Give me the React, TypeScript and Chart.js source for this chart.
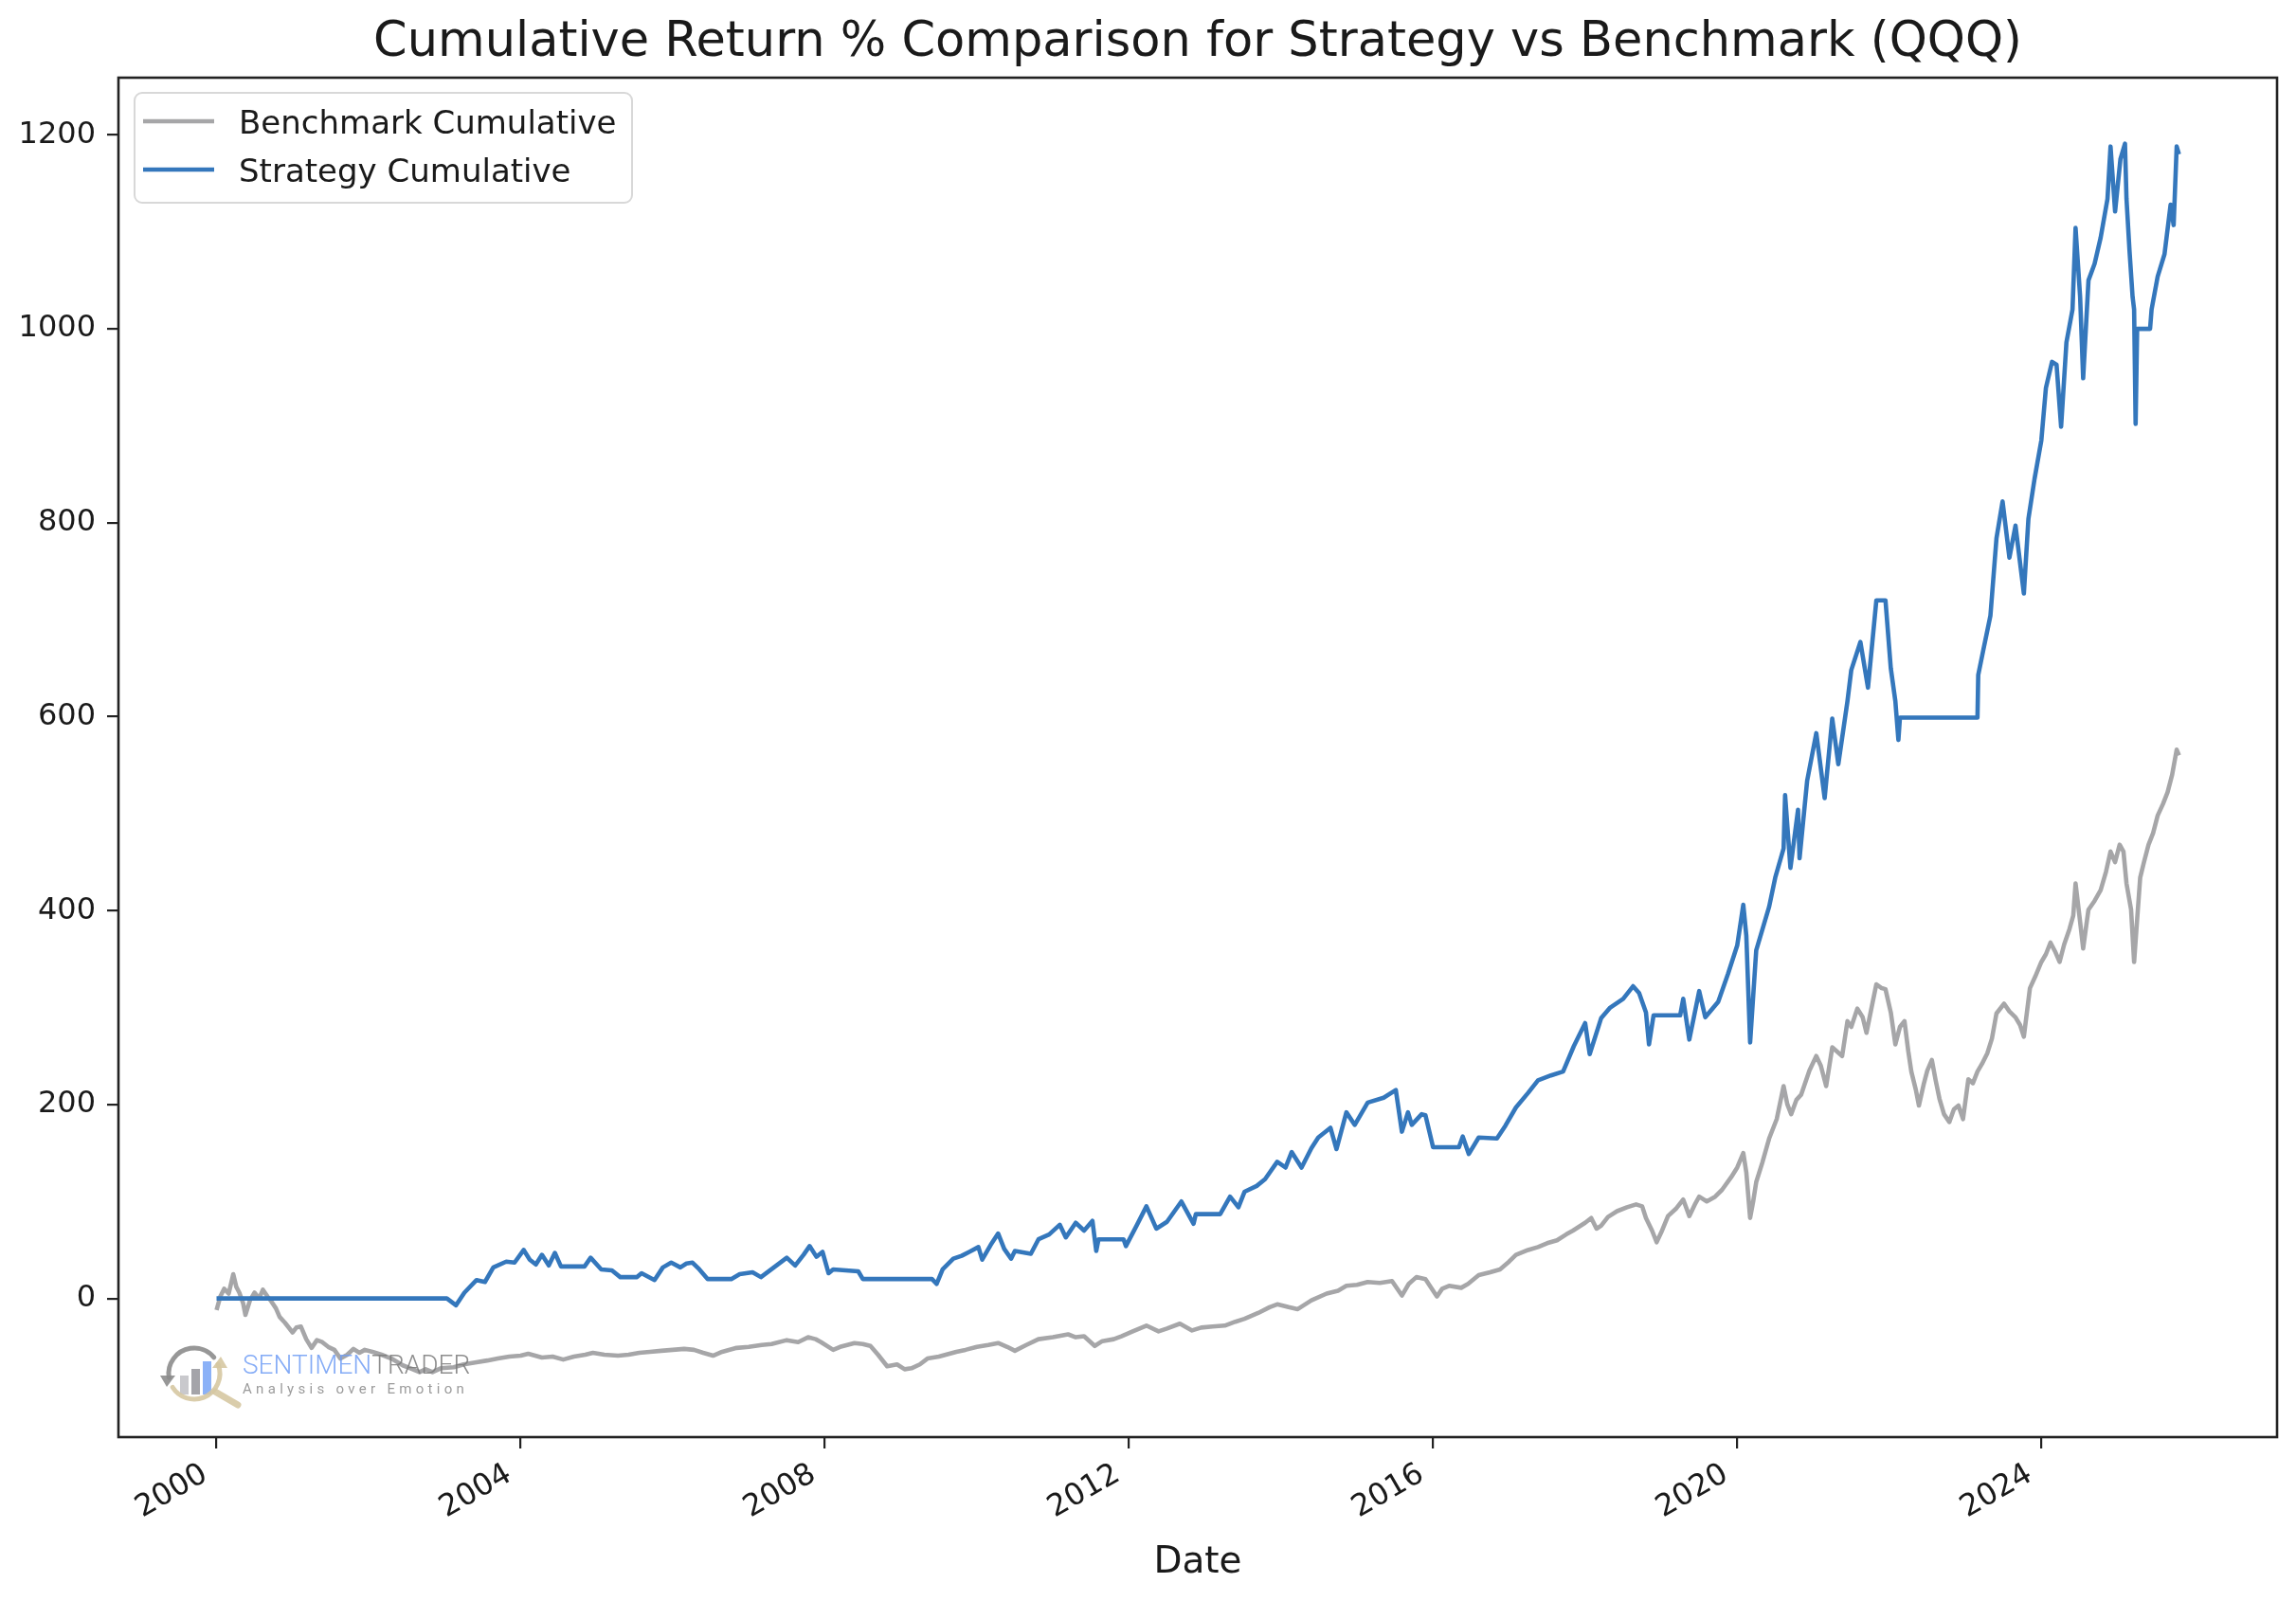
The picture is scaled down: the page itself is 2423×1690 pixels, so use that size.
import React, { useEffect, useRef } from "react";
import { Chart, registerables } from "chart.js";

Chart.register(...registerables);

const TITLE = "Cumulative Return % Comparison for Strategy vs Benchmark (QQQ)";
const X_TITLE = "Date";
const X_TICKS = [2000, 2004, 2008, 2012, 2016, 2020, 2024];
const Y_TICKS = [0, 200, 400, 600, 800, 1000, 1200];
const X_MIN = 1998.71;
const X_MAX = 2027.1;
const Y_MIN = -143;
const Y_MAX = 1259;

const BENCH_LABEL = "Benchmark Cumulative";
const STRAT_LABEL = "Strategy Cumulative";
const BENCH_COLOR = "#a6a6a8";
const STRAT_COLOR = "#3477bc";

const BENCH_DATES = [
  2000.0, 2000.05, 2000.1, 2000.16, 2000.22, 2000.26, 2000.3, 2000.35, 2000.38, 2000.44, 2000.5, 2000.56,
  2000.61, 2000.67, 2000.72, 2000.78, 2000.83, 2000.9, 2001.0, 2001.05, 2001.11, 2001.18, 2001.25, 2001.32,
  2001.39, 2001.47, 2001.55, 2001.63, 2001.72, 2001.8, 2001.88, 2001.95, 2002.05, 2002.17, 2002.3, 2002.45,
  2002.55, 2002.67, 2002.75, 2002.84, 2002.95, 2003.12, 2003.25, 2003.4, 2003.56, 2003.7, 2003.85, 2004.0,
  2004.1, 2004.28, 2004.42, 2004.56, 2004.7, 2004.85, 2004.95, 2005.1, 2005.28, 2005.42, 2005.56, 2005.7,
  2005.85, 2006.0, 2006.15, 2006.28, 2006.4, 2006.53, 2006.65, 2006.84, 2007.0, 2007.17, 2007.3, 2007.5,
  2007.65, 2007.78, 2007.88, 2007.95, 2008.11, 2008.2, 2008.39, 2008.5, 2008.6, 2008.7, 2008.82, 2008.95,
  2009.05, 2009.14, 2009.25, 2009.35, 2009.5, 2009.73, 2009.85, 2010.0, 2010.15, 2010.28, 2010.4, 2010.5,
  2010.65, 2010.81, 2011.0, 2011.2, 2011.3, 2011.41, 2011.55, 2011.65, 2011.8, 2011.9, 2012.05, 2012.23,
  2012.39, 2012.5, 2012.67, 2012.83, 2012.95, 2013.1, 2013.26, 2013.4, 2013.52, 2013.7, 2013.85, 2013.95,
  2014.1, 2014.22, 2014.4, 2014.6, 2014.75, 2014.86, 2015.0, 2015.14, 2015.3, 2015.46, 2015.59, 2015.68,
  2015.78, 2015.9, 2016.05, 2016.12, 2016.21, 2016.37, 2016.46, 2016.6, 2016.75, 2016.88, 2017.0, 2017.09,
  2017.25, 2017.38, 2017.5, 2017.63, 2017.75, 2017.84, 2018.0, 2018.08, 2018.15, 2018.21, 2018.3, 2018.42,
  2018.55, 2018.67, 2018.75, 2018.8, 2018.88, 2018.94, 2019.0, 2019.09, 2019.2, 2019.29, 2019.37, 2019.45,
  2019.5, 2019.6, 2019.71, 2019.8, 2019.92, 2020.0, 2020.08, 2020.12, 2020.17, 2020.21, 2020.25, 2020.33,
  2020.42, 2020.52, 2020.61, 2020.66, 2020.71, 2020.78, 2020.84, 2020.95, 2021.04, 2021.1, 2021.17, 2021.25,
  2021.38, 2021.45, 2021.5, 2021.58, 2021.65, 2021.7, 2021.78, 2021.83, 2021.9, 2021.95, 2022.02, 2022.08,
  2022.14, 2022.2, 2022.25, 2022.29, 2022.35, 2022.39, 2022.45, 2022.5, 2022.56, 2022.61, 2022.66, 2022.72,
  2022.79, 2022.85, 2022.91, 2022.97, 2023.04, 2023.1, 2023.16, 2023.22, 2023.29, 2023.35, 2023.41, 2023.51,
  2023.58, 2023.66, 2023.72, 2023.77, 2023.85, 2023.92, 2024.0, 2024.06, 2024.12, 2024.18, 2024.24, 2024.3,
  2024.37, 2024.42, 2024.45, 2024.5, 2024.55, 2024.6, 2024.62, 2024.7, 2024.78, 2024.85, 2024.91, 2024.97,
  2025.03, 2025.08, 2025.12, 2025.18, 2025.22, 2025.25, 2025.3, 2025.35, 2025.41, 2025.47, 2025.53, 2025.6,
  2025.66, 2025.72, 2025.78, 2025.81,
];
const BENCH_VALUES = [
  -12, 2, 10, 5, 25, 12, 6, -5, -17, -2, 6, 0,
  9, 2, -3, -10, -19, -25, -35, -30, -29, -42, -51, -43,
  -45, -50, -53, -62, -58, -52, -56, -53, -55, -58, -62, -69,
  -72, -76, -73, -76, -72, -71, -68, -66, -64, -62, -60, -59,
  -57, -61, -60, -63, -60, -58, -56, -58, -59, -58, -56, -55,
  -54, -53, -52, -53, -56, -59, -55, -51, -50, -48, -47, -43,
  -45, -40, -42, -45, -53, -50, -46, -47, -49, -58, -70, -68,
  -73, -72, -68, -62, -60, -55, -53, -50, -48, -46, -50, -54,
  -48, -42, -40, -37, -40, -39, -49, -44, -42, -39, -34, -28,
  -34, -31, -26, -33, -30, -29, -28, -24, -21, -15, -9, -6,
  -9, -11, -2, 5, 8, 13, 14, 17, 16, 18, 3, 15,
  22, 20, 2, 10, 13, 11, 15, 24, 27, 30, 38, 45,
  50, 53, 57, 60, 66, 70, 78, 83, 72, 75, 84, 90,
  94, 97, 95, 83, 70, 58, 68, 85, 93, 102, 85, 98,
  105, 100, 105, 112, 125, 135, 150, 130, 83, 100, 120, 140,
  165, 185, 219, 200, 190, 205, 210, 235, 250, 240, 219, 259,
  250, 286, 280, 299, 290, 274, 305, 324, 320, 319, 295, 262,
  280, 286, 255, 234, 215, 199, 220, 235, 246, 225, 206, 190,
  182, 195, 199, 185, 226, 222, 234, 242, 253, 268, 294, 304,
  296, 290, 282, 270, 320, 332, 347, 355, 367, 358, 347, 365,
  381, 395, 428, 395, 361, 390, 401, 410, 421, 440, 461, 450,
  468, 461, 428, 401, 347, 380, 434, 450, 468, 480, 498, 510,
  522, 540, 566, 560,
];

const STRAT_DATES = [
  2000.0, 2003.03, 2003.15, 2003.26, 2003.42, 2003.53, 2003.64, 2003.81, 2003.92, 2004.04, 2004.12, 2004.2,
  2004.28, 2004.37, 2004.45, 2004.53, 2004.84, 2004.92, 2005.06, 2005.2, 2005.31, 2005.53, 2005.59, 2005.76,
  2005.87, 2005.98, 2006.1, 2006.18, 2006.26, 2006.35, 2006.46, 2006.77, 2006.88, 2007.05, 2007.16, 2007.33,
  2007.5, 2007.61, 2007.72, 2007.8, 2007.89, 2007.97, 2008.05, 2008.11, 2008.44, 2008.5, 2009.41, 2009.47,
  2009.55, 2009.69, 2009.8, 2009.9, 2010.02, 2010.07, 2010.18, 2010.28, 2010.36, 2010.45, 2010.5, 2010.71,
  2010.81, 2010.95, 2011.09, 2011.17, 2011.3, 2011.41, 2011.52, 2011.57, 2011.6, 2011.93, 2011.96, 2012.1,
  2012.23, 2012.36, 2012.5, 2012.69, 2012.85, 2012.88, 2013.2, 2013.33, 2013.44, 2013.52, 2013.68, 2013.79,
  2013.95, 2014.06, 2014.14, 2014.27, 2014.4, 2014.49, 2014.65, 2014.73, 2014.86, 2014.97, 2015.14, 2015.35,
  2015.51, 2015.59, 2015.67, 2015.72, 2015.85, 2015.9, 2016.0, 2016.34, 2016.39, 2016.47, 2016.6, 2016.84,
  2016.95, 2017.09, 2017.25, 2017.38, 2017.55, 2017.71, 2017.85, 2018.0, 2018.06, 2018.21, 2018.33, 2018.5,
  2018.63, 2018.71, 2018.8, 2018.84, 2018.9, 2019.25, 2019.29, 2019.37, 2019.5, 2019.58, 2019.75, 2019.88,
  2020.0, 2020.08, 2020.12, 2020.17, 2020.25, 2020.42, 2020.5, 2020.61, 2020.63, 2020.7, 2020.8, 2020.82,
  2020.92, 2021.04, 2021.15, 2021.25, 2021.33, 2021.45, 2021.5, 2021.62, 2021.72, 2021.83, 2021.95, 2022.02,
  2022.08, 2022.12, 2022.14, 2023.16, 2023.17, 2023.24, 2023.33, 2023.41, 2023.49, 2023.58, 2023.66, 2023.77,
  2023.83, 2023.91, 2024.0, 2024.06, 2024.14, 2024.2, 2024.26, 2024.33, 2024.41, 2024.45, 2024.51, 2024.55,
  2024.62, 2024.7, 2024.78, 2024.87, 2024.91, 2024.97, 2025.04, 2025.1, 2025.12, 2025.16, 2025.2, 2025.22,
  2025.24, 2025.26, 2025.43, 2025.45, 2025.53, 2025.62, 2025.7, 2025.74, 2025.78, 2025.81,
];
const STRAT_VALUES = [
  0, 0, -7, 6, 19, 17, 32, 38, 37, 50, 40, 35,
  45, 34, 47, 33, 33, 42, 30, 29, 22, 22, 26, 19,
  32, 37, 32, 36, 37, 30, 20, 20, 25, 27, 22, 32,
  42, 34, 45, 54, 43, 48, 26, 30, 28, 20, 20, 15,
  30, 41, 44, 48, 53, 40, 55, 67, 51, 41, 49, 46,
  61, 66, 76, 63, 78, 70, 80, 49, 61, 61, 54, 75,
  95, 72, 79, 100, 77, 87, 87, 105, 94, 110, 116, 123,
  141, 135, 151, 135, 155, 166, 176, 154, 192, 179, 202, 207,
  215, 172, 192, 179, 190, 189, 156, 156, 167, 149, 166, 165,
  178, 197, 212, 225, 230, 234, 260, 284, 252, 289, 300, 309,
  322, 315, 295, 262, 292, 292, 309, 267, 317, 290, 306, 335,
  364, 406, 374, 264, 359, 404, 434, 464, 519, 444, 504, 454,
  534, 583, 516, 598, 551, 616, 648, 677, 630, 720, 720, 650,
  616, 576, 599, 599, 643, 670, 704, 784, 822, 764, 797, 727,
  804, 845, 885, 939, 966, 963, 899, 986, 1020, 1104, 1033, 949,
  1050, 1067, 1094, 1134, 1188, 1121, 1175, 1191, 1134, 1080, 1033, 1020,
  902, 1000, 1000, 1020, 1054, 1077, 1128, 1107, 1188, 1180,
];

const FONT = '"DejaVu Sans", "Liberation Sans", sans-serif';
const TEXT_COLOR = "#1a1a1a";

function toPoints(dates: number[], values: number[]) {
  return dates.map((d, i) => ({ x: d, y: values[i] }));
}

function drawWatermark(ctx: CanvasRenderingContext2D, a: any) {
  const cx = a.left + 80;
  const cy = a.bottom - 67;
  const r = 27;
  ctx.save();
  ctx.globalAlpha = 0.9;
  ctx.fillStyle = "#c3c3c8";
  ctx.fillRect(cx - 15, cy + 2, 9, 20);
  ctx.fillStyle = "#9a9aa0";
  ctx.fillRect(cx - 3, cy - 5, 9, 27);
  ctx.fillStyle = "#7ea8f6";
  ctx.fillRect(cx + 9, cy - 13, 9, 35);
  ctx.lineCap = "round";
  ctx.lineWidth = 5;
  ctx.strokeStyle = "#8c8c8c";
  ctx.beginPath();
  ctx.arc(cx, cy, r, Math.PI * 0.95, Math.PI * 1.78);
  ctx.stroke();
  ctx.fillStyle = "#8c8c8c";
  ctx.beginPath();
  ctx.moveTo(cx - r - 9, cy + 2);
  ctx.lineTo(cx - r + 7, cy + 2);
  ctx.lineTo(cx - r - 2, cy + 14);
  ctx.closePath();
  ctx.fill();
  ctx.strokeStyle = "#d6c8a2";
  ctx.beginPath();
  ctx.arc(cx, cy, r, -Math.PI * 0.12, Math.PI * 0.82);
  ctx.stroke();
  ctx.fillStyle = "#d6c8a2";
  ctx.beginPath();
  ctx.moveTo(cx + r - 8, cy - 6);
  ctx.lineTo(cx + r + 8, cy - 6);
  ctx.lineTo(cx + r + 1, cy - 18);
  ctx.closePath();
  ctx.fill();
  ctx.lineWidth = 7;
  ctx.beginPath();
  ctx.moveTo(cx + 22, cy + 19);
  ctx.lineTo(cx + 46, cy + 33);
  ctx.stroke();
  ctx.globalAlpha = 0.85;
  ctx.textAlign = "left";
  ctx.textBaseline = "alphabetic";
  ctx.font = '300 28px Roboto, "Noto Sans", sans-serif';
  const tx = a.left + 131;
  const ty = a.bottom - 67;
  ctx.fillStyle = "#6f9cf5";
  ctx.fillText("SENTIMEN", tx, ty);
  const w = ctx.measureText("SENTIMEN").width;
  ctx.fillStyle = "#7a7a7a";
  ctx.fillText("TRADER", tx + w, ty);
  ctx.font = '400 15px Roboto, "Noto Sans", sans-serif';
  (ctx as any).letterSpacing = "4.3px";
  ctx.fillStyle = "#8a8a8a";
  ctx.fillText("Analysis over Emotion", tx, ty + 21);
  (ctx as any).letterSpacing = "0px";
  ctx.restore();
}

const decorPlugin = {
  id: "decor",
  afterDatasetsDraw(chart: any) {
    drawWatermark(chart.ctx, chart.chartArea);
  },
  afterDraw(chart: any) {
    const { ctx, chartArea: a, scales } = chart;
    ctx.save();
    ctx.strokeStyle = "#222";
    ctx.lineWidth = 2.6;
    ctx.strokeRect(a.left, a.top, a.right - a.left, a.bottom - a.top);

    ctx.fillStyle = TEXT_COLOR;
    ctx.font = `51px ${FONT}`;
    ctx.textAlign = "center";
    ctx.textBaseline = "alphabetic";
    ctx.fillText(TITLE, (a.left + a.right) / 2, 59);

    ctx.font = `32px ${FONT}`;
    for (const v of X_TICKS) {
      const px = scales.x.getPixelForValue(v);
      ctx.save();
      ctx.translate(px - 12, a.bottom + 37);
      ctx.rotate(-Math.PI / 6);
      ctx.textAlign = "right";
      ctx.textBaseline = "middle";
      ctx.fillText(String(v), 0, 0);
      ctx.restore();
    }

    ctx.font = `39px ${FONT}`;
    ctx.textAlign = "center";
    ctx.textBaseline = "alphabetic";
    ctx.fillText(X_TITLE, (a.left + a.right) / 2, a.bottom + 143);

    const bx = a.left + 17;
    const by = a.top + 16;
    const bw = 525;
    const bh = 116;
    ctx.beginPath();
    (ctx as any).roundRect(bx, by, bw, bh, 8);
    ctx.fillStyle = "rgba(255,255,255,0.85)";
    ctx.fill();
    ctx.strokeStyle = "#d8d8d8";
    ctx.lineWidth = 2;
    ctx.stroke();
    const rows = chart.data.datasets;
    rows.forEach((ds: any, i: number) => {
      const y = by + 30 + i * 51;
      ctx.strokeStyle = ds.borderColor;
      ctx.lineWidth = 4.5;
      ctx.beginPath();
      ctx.moveTo(bx + 9, y);
      ctx.lineTo(bx + 84, y);
      ctx.stroke();
      ctx.fillStyle = TEXT_COLOR;
      ctx.font = `34px ${FONT}`;
      ctx.textAlign = "left";
      ctx.textBaseline = "alphabetic";
      ctx.fillText(ds.label, bx + 110, y + 12.5);
    });
    ctx.restore();
  },
};

export default function App() {
  const canvasRef = useRef<HTMLCanvasElement | null>(null);

  useEffect(() => {
    document.body.style.margin = "0";
    const canvas = canvasRef.current;
    if (!canvas) return;
    const chart = new Chart(canvas, {
      type: "line",
      data: {
        datasets: [
          {
            label: BENCH_LABEL,
            data: toPoints(BENCH_DATES, BENCH_VALUES),
            borderColor: BENCH_COLOR,
            borderWidth: 4.6,
            pointRadius: 0,
            tension: 0,
            order: 1,
            borderJoinStyle: "round",
          },
          {
            label: STRAT_LABEL,
            data: toPoints(STRAT_DATES, STRAT_VALUES),
            borderColor: STRAT_COLOR,
            borderWidth: 4.6,
            pointRadius: 0,
            tension: 0,
            order: 0,
            borderJoinStyle: "round",
          },
        ],
      },
      options: {
        animation: false,
        responsive: true,
        maintainAspectRatio: false,
        devicePixelRatio: 1,
        parsing: false,
        layout: { padding: { left: 0, top: 82, right: 20, bottom: 0 } },
        plugins: {
          legend: { display: false },
          title: { display: false },
          tooltip: { enabled: false },
        },
        scales: {
          x: {
            type: "linear",
            min: X_MIN,
            max: X_MAX,
            border: { display: false },
            grid: {
              display: true,
              drawOnChartArea: false,
              drawTicks: true,
              tickLength: 12,
              tickColor: "#222",
              tickWidth: 2.2,
              lineWidth: 2.2,
            },
            ticks: { display: false },
            afterBuildTicks: (scale: any) => {
              scale.ticks = X_TICKS.map((v) => ({ value: v }));
            },
            afterFit: (scale: any) => {
              scale.height = 173;
            },
          },
          y: {
            type: "linear",
            min: Y_MIN,
            max: Y_MAX,
            border: { display: false },
            grid: {
              display: true,
              drawOnChartArea: false,
              drawTicks: true,
              tickLength: 12,
              tickColor: "#222",
              tickWidth: 2.2,
              lineWidth: 2.2,
            },
            ticks: {
              color: TEXT_COLOR,
              padding: 12,
              font: { family: FONT, size: 32 },
              callback: (v: any) => String(v),
            },
            afterBuildTicks: (scale: any) => {
              scale.ticks = Y_TICKS.map((v) => ({ value: v }));
            },
            afterFit: (scale: any) => {
              scale.width = 125;
            },
          },
        },
      },
      plugins: [decorPlugin],
    });
    return () => chart.destroy();
  }, []);

  return (
    <div style={{ width: 2423, height: 1690, position: "relative", background: "#fff" }}>
      <canvas ref={canvasRef} />
    </div>
  );
}
